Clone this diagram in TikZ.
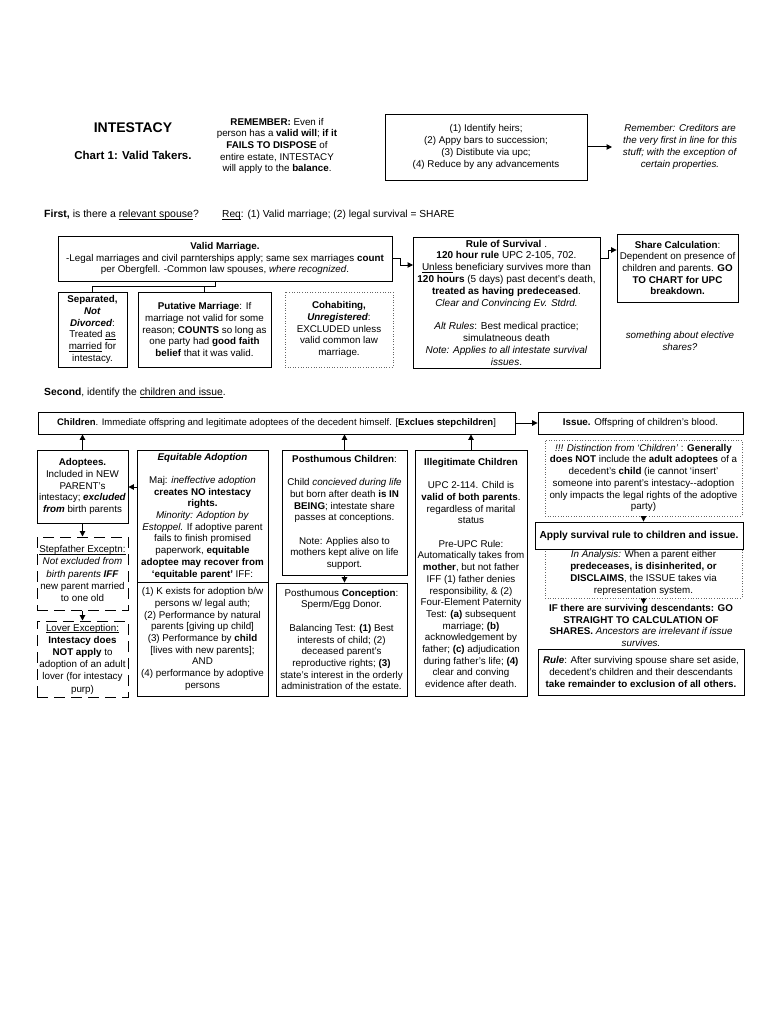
\documentclass[tikz,border=0pt]{standalone}
\usepackage{fontspec}
\setmainfont{Liberation Sans}
\usetikzlibrary{arrows.meta,shadows}
\newcommand{\ulx}[1]{\underline{\raisebox{0pt}[\height][0pt]{#1}}}
\begin{document}
\begin{tikzpicture}[x=1pt,y=-1pt,
  base/.style={font=\fontsize{9.8}{11.7}\selectfont, align=center, inner sep=0pt},
  box/.style={base, draw, line width=0.9pt, fill=white,
    drop shadow={shadow xshift=1.3pt,shadow yshift=-1.3pt,fill=black!50,opacity=0.6}},
  dotbox/.style={base, draw=black!60, dash pattern=on 1pt off 1.6pt, line width=0.8pt},
  dashbox/.style={base, draw, dash pattern=on 11pt off 6pt, line width=1pt, font=\fontsize{9.8}{12.2}\selectfont},
  plain/.style={base},
  arr/.style={-{Triangle[length=5.5pt,width=5.5pt]}, line width=1pt},
  link/.style={line width=1pt}
]
\useasboundingbox[fill=white] (0,0) rectangle (768,1024);

% header
\node[plain, font=\fontsize{14}{16}\selectfont\bfseries] (title) at (133,128) {INTESTACY};
\node[plain, font=\fontsize{11.5}{14}\selectfont\bfseries] (chart) at (133,155) {Chart 1: Valid Takers.};
\node[plain] (remember) at (277,146) {\textbf{REMEMBER:} Even if\\
person has a \textbf{valid will}; \textbf{if it}\\
\textbf{FAILS TO DISPOSE} of\\
entire estate, INTESTACY\\
will apply to the \textbf{balance}.};
\node[box, minimum width=202, minimum height=66] (steps) at (486,147) {(1) Identify heirs;\\
(2) Appy bars to succession;\\
(3) Distibute via upc;\\
(4) Reduce by any advancements};
\node[plain] (cred) at (680,147) {\textit{Remember: Creditors are}\\
\textit{the very first in line for this}\\
\textit{stuff; with the exception of}\\
\textit{certain properties.}};
\coordinate (credin) at (612,147);
\draw[arr] (steps.east) -- (credin);

% spouse section
\node[plain, anchor=west, font=\fontsize{10.5}{12}\selectfont] (first) at (44,215) {\textbf{First,} is there a \ulx{relevant spouse}?};
\node[plain, anchor=west, font=\fontsize{10.2}{12}\selectfont] (req) at (222,215) {\ulx{Req}: (1) Valid marriage; (2) legal survival = SHARE};

\node[box, minimum width=334, minimum height=45] (vm) at (225,258.5) {\textbf{Valid Marriage.}\\
-Legal marriages and civil parnterships apply; same sex marriages \textbf{count}\\
per Obergfell. -Common law spouses, \textit{where recognized}.};
\node[box, minimum width=187, minimum height=131, font=\fontsize{10}{11.8}\selectfont] (rule) at (506.5,302.5) {\textbf{Rule of Survival} .\\
\textbf{120 hour rule} UPC 2-105, 702.\\
\ulx{Unless} beneficiary survives more than\\
\textbf{120 hours} (5 days) past decent's death,\\
\textbf{treated as having predeceased}.\\
\textit{Clear and Convincing Ev. Stdrd.}\\[11.8pt]
\textit{Alt Rules}: Best medical practice;\\
simulatneous death\\
\textit{Note: Applies to all intestate survival}\\
\textit{issues}.};
\node[box, minimum width=121, minimum height=68] (share) at (677.5,268) {\textbf{Share Calculation}:\\
Dependent on presence of\\
children and parents. \textbf{GO}\\
\textbf{TO CHART for UPC}\\
\textbf{breakdown.}};
\node[plain] (elective) at (680,341) {\textit{something about elective}\\
\textit{shares?}};
\coordinate (rulein) at (413,265);
\draw[arr] (vm.east) -- ++(8,0) |- (rulein);
\draw[arr] (rule.east |- 0,258) -- ++(8,0) |- (share.west |- 0,250);

\node[box, minimum width=69, minimum height=75] (sep) at (92.5,329.5) {\textbf{Separated,}\\
\textbf{\textit{Not}}\\
\textbf{\textit{Divorced}}:\\
Treated \ulx{as}\\
\ulx{married} for\\
intestacy.};
\node[box, minimum width=133, minimum height=75] (put) at (204.5,329.5) {\textbf{Putative Marriage}: If\\
marriage not valid for some\\
reason; \textbf{COUNTS} so long as\\
one party had \textbf{good faith}\\
\textbf{belief} that it was valid.};
\node[dotbox, minimum width=108, minimum height=75] (cohab) at (339,329.5) {\textbf{Cohabiting,}\\
\textbf{\textit{Unregistered}}:\\
EXCLUDED unless\\
valid common law\\
marriage.};
\draw[link] (sep.north) -- ++(0,-5) -| (vm.south -| 215,0);
\draw[link] (put.north) -- (put.north |- 0,287);

% children section
\node[plain, anchor=west, font=\fontsize{10.3}{12}\selectfont] (second) at (44,393) {\textbf{Second}, identify the \ulx{children and issue}.};
\node[box, minimum width=477, minimum height=22, font=\fontsize{9.5}{11.7}\selectfont] (children) at (276.5,423) {\textbf{Children}. Immediate offspring and legitimate adoptees of the decedent himself. [\textbf{Exclues stepchildren}]};
\node[box, minimum width=205, minimum height=22] (issue) at (640.5,423) {\textbf{Issue.} Offspring of children's blood.};
\draw[arr] (children.east) -- (issue.west);

\node[dotbox, minimum width=197, minimum height=76] (dist) at (643.5,478) {\textit{!!! Distinction from `Children'} : \textbf{Generally}\\
\textbf{does NOT} include the \textbf{adult adoptees} of a\\
decedent's \textbf{child} (ie cannot `insert'\\
someone into parent's intestacy{-}{-}adoption\\
only impacts the legal rights of the adoptive\\
party)};
\node[dotbox, minimum width=197, minimum height=50] (anal) at (643.5,573) {\textit{In Analysis:} When a parent either\\
\textbf{predeceases, is disinherited, or}\\
\textbf{DISCLAIMS}, the ISSUE takes via\\
representation system.};
\node[box, minimum width=208, minimum height=27, font=\fontsize{10.2}{12}\selectfont\bfseries] (apply) at (639,535.5) {Apply survival rule to children and issue.};
\draw[arr] (dist.south) -- (dist.south |- apply.north);
\node[plain] (iftext) at (641,625.5) {\textbf{IF there are surviving descendants: GO}\\
\textbf{STRAIGHT TO CALCULATION OF}\\
\textbf{SHARES.} \textit{Ancestors are irrelevant if issue}\\
\textit{survives.}};
\coordinate (ifin) at (643.5,604);
\draw[arr] (anal.south) -- (ifin);
\node[box, minimum width=206, minimum height=46] (rulebox) at (641,672) {\textbf{\textit{Rule}}: After surviving spouse share set aside,\\
decedent's children and their descendants\\
\textbf{take remainder to exclusion of all others.}};

% left column
\node[box, minimum width=91, minimum height=73] (adopt) at (82.5,486.5) {\textbf{Adoptees.}\\
Included in NEW\\
PARENT's\\
intestacy; \textbf{\textit{excluded}}\\
\textbf{\textit{from}} birth parents};
\node[dashbox, minimum width=91, minimum height=73] (stepf) at (82.5,573.5) {\ulx{Stepfather Exceptn:}\\
\textit{Not excluded from}\\
\textit{birth parents} \textbf{\textit{IFF}}\\
new parent married\\
to one old};
\node[dashbox, minimum width=91, minimum height=76] (lover) at (82.5,659) {\ulx{Lover Exception:}\\
\textbf{Intestacy does}\\
\textbf{NOT apply} to\\
adoption of an adult\\
lover (for intestacy\\
purp)};
\draw[arr] (adopt.north) -- (adopt.north |- children.south);
\draw[arr] (adopt.south) -- (stepf.north);
\draw[arr] (stepf.south) -- (lover.north);

\node[box, minimum width=131, minimum height=132] (eqt) at (202.5,516) {\textbf{\textit{Equitable Adoption}}\\[11.7pt]
Maj: \textit{ineffective adoption}\\
\textbf{creates NO intestacy}\\
\textbf{rights.}\\
\textit{Minority: Adoption by}\\
\textit{Estoppel.} If adoptive parent\\
fails to finish promised\\
paperwork, \textbf{equitable}\\
\textbf{adoptee may recover from}\\
\textbf{`equitable parent'} IFF:};
\node[box, minimum width=131, minimum height=114] (eqb) at (202.5,639) {(1) K exists for adoption b/w\\
persons w/ legal auth;\\
(2) Performance by natural\\
parents [giving up child]\\
(3) Performance by \textbf{child}\\
{[lives with new parents];}\\
AND\\
(4) performance by adoptive\\
persons};
\draw[arr] (eqt.west |- 0,487) -- (adopt.east |- 0,487);

\node[box, minimum width=125, minimum height=125] (pch) at (344.5,512.5) {\textbf{Posthumous Children}:\\[11.7pt]
Child \textit{concieved during life}\\
but born after death \textbf{is IN}\\
\textbf{BEING}; intestate share\\
passes at conceptions.\\[11.7pt]
Note: Applies also to\\
mothers kept alive on life\\
support.};
\node[box, minimum width=131, minimum height=113] (pco) at (341.5,639.5) {Posthumous \textbf{Conception}:\\
Sperm/Egg Donor.\\[11.7pt]
Balancing Test: \textbf{(1)} Best\\
interests of child; (2)\\
deceased parent's\\
reproductive rights; \textbf{(3)}\\
state's interest in the orderly\\
administration of the estate.};
\draw[arr] (pch.north) -- (pch.north |- children.south);
\draw[arr] (pch.south) -- (pch.south |- pco.north);

\node[box, minimum width=112, minimum height=246] (ill) at (471,573) {\textbf{Illegitimate Children}\\[11.7pt]
UPC 2-114. Child is\\
\textbf{valid of both parents}.\\
regardless of marital\\
status\\[11.7pt]
Pre-UPC Rule:\\
Automatically takes from\\
\textbf{mother}, but not father\\
IFF (1) father denies\\
responsibility, \& (2)\\
Four-Element Paternity\\
Test: \textbf{(a)} subsequent\\
marriage; \textbf{(b)}\\
acknowledgement by\\
father; \textbf{(c)} adjudication\\
during father's life; \textbf{(4)}\\
clear and conving\\
evidence after death.};
\draw[arr] (ill.north) -- (ill.north |- children.south);
\end{tikzpicture}
\end{document}
